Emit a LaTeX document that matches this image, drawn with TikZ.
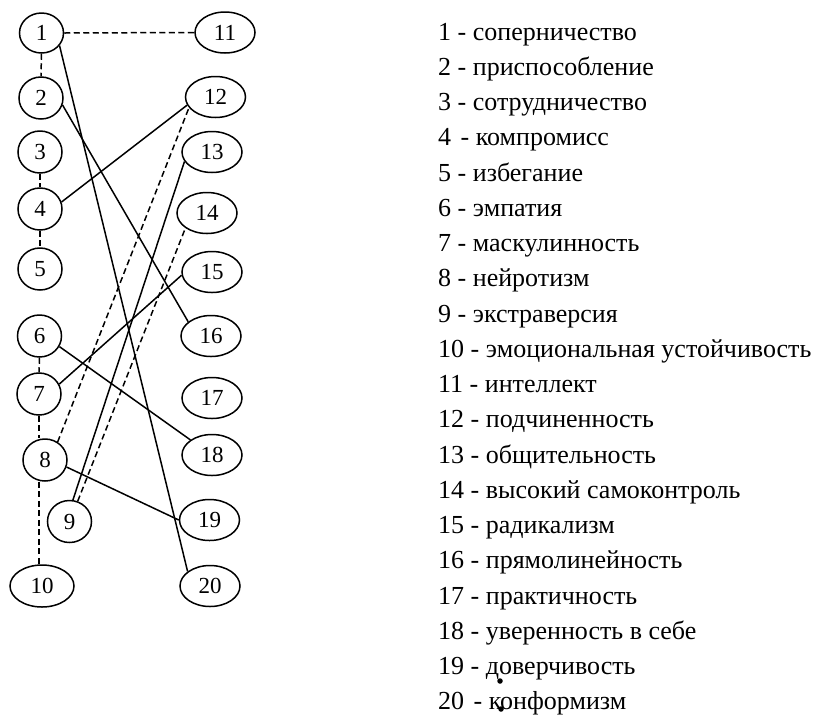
\documentclass[tikz,border=0pt]{standalone}
\usepackage{fontspec}
\setmainfont{Liberation Serif}
\usetikzlibrary{shapes.geometric}
\tikzset{
  vtx/.style={ellipse, draw, line width=1.5pt, inner sep=0pt, font=\fontsize{23}{23}\selectfont},
  cnode/.style={vtx, minimum width=44pt, minimum height=42pt},
  enode/.style={vtx, minimum width=60pt, minimum height=41pt},
  wnode/.style={vtx, minimum width=64pt, minimum height=42pt},
  link/.style={line width=1.5pt},
  dlink/.style={line width=1.5pt, dash pattern=on 6pt off 3.5pt},
  legend/.style={anchor=base west, inner sep=0pt, font=\fontsize{26}{26}\selectfont},
  dotmark/.style={circle, fill, inner sep=0pt, minimum size=5.5pt}
}
\begin{document}
\begin{tikzpicture}[x=1pt,y=-1pt]
\useasboundingbox (0,0) rectangle (816,716);
% left column
\node[cnode, minimum height=40pt] (n1) at (41.5,33) {1};
\node[cnode] (n2) at (41,98) {2};
\node[cnode] (n3) at (40,152) {3};
\node[cnode] (n4) at (40,209) {4};
\node[cnode] (n5) at (40,269) {5};
\node[cnode] (n6) at (39.5,336) {6};
\node[cnode] (n7) at (39,394) {7};
\node[cnode] (n8) at (45,460) {8};
\node[cnode] (n9) at (69.5,521.5) {9};
\node[wnode] (n10) at (42,586) {10};
% right column
\node[enode] (n11) at (225,32.5) {11};
\node[enode] (n12) at (215.5,97) {12};
\node[enode] (n13) at (212,152) {13};
\node[enode] (n14) at (207,213) {14};
\node[enode] (n15) at (212,272) {15};
\node[enode] (n16) at (211,336) {16};
\node[enode] (n17) at (212,398) {17};
\node[enode] (n18) at (212,455) {18};
\node[enode] (n19) at (209.5,520) {19};
\node[enode] (n20) at (210,586) {20};
% dashed connectors
\draw[dlink] (n1.east) -- (n11.west);
\draw[dlink] (n1.south) -- (n2.north);
\draw[dlink] (n3.south) -- (n4.north);
\draw[dlink] (n4.south) -- (n5.north);
\draw[dlink] (n6.south) -- (n7.north);
\draw[dlink] (n7.south) -- (n7.south |- n8.north);
\draw[dlink] (n7.south |- n8.south) -- (n7.south |- n10.north);
\draw[dlink] (n8.55) -- (n12.202);
\draw[dlink] (n9.68) -- (n14.215);
% solid connectors
\draw[link] (n1.-35) -- (n20.147);
\draw[link] (n2.-18) -- (n16.148);
\draw[link] (n4.18) -- (n12.196);
\draw[link] (n7.26) -- (n15.186);
\draw[link] (n6.-28) -- (n18.145);
\draw[link] (n8.-18) -- (n19.180);
\draw[link] (n9.81) -- (n13.199);
% legend
\node[legend] (L1) at (438,40) {1 - соперничество};
\node[legend] (L2) at (438,75.26) {2 - приспособление};
\node[legend] (L3) at (438,110.52) {3 - сотрудничество};
\node[legend] (L4) at (438,145.78) {4\hspace{3pt} - компромисс};
\node[legend] (L5) at (438,181.04) {5 - избегание};
\node[legend] (L6) at (438,216.3) {6 - эмпатия};
\node[legend] (L7) at (438,251.56) {7 - маскулинность};
\node[legend] (L8) at (438,286.82) {8 - нейротизм};
\node[legend] (L9) at (438,322.08) {9 - экстраверсия};
\node[legend] (L10) at (438,357.34) {10 - эмоциональная устойчивость};
\node[legend] (L11) at (438,392.6) {11 - интеллект};
\node[legend] (L12) at (438,427.86) {12 - подчиненность};
\node[legend] (L13) at (438,463.12) {13 - общительность};
\node[legend] (L14) at (438,498.38) {14 - высокий самоконтроль};
\node[legend] (L15) at (438,533.64) {15 - радикализм};
\node[legend] (L16) at (438,568.9) {16 - прямолинейность};
\node[legend] (L17) at (438,604.16) {17 - практичность};
\node[legend] (L18) at (438,639.42) {18 - уверенность в себе};
\node[legend] (L19) at (438,674.68) {19 - доверчивость};
\node[legend] (L20) at (438,709.94) {20\hspace{3pt} - конформизм};
\node[dotmark] (d1) at (500,681) {};
\node[dotmark] (d2) at (501,709) {};
\end{tikzpicture}
\end{document}
